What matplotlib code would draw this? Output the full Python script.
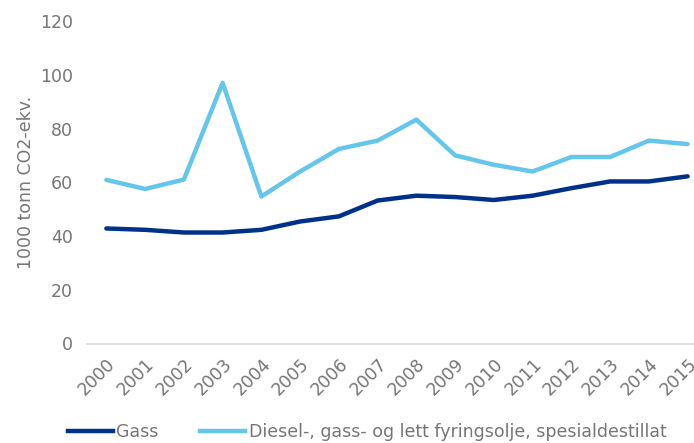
import matplotlib
matplotlib.use("Agg")
import matplotlib.pyplot as plt
from matplotlib.lines import Line2D

years = [str(y) for y in range(2000, 2016)]
gass = [42.8, 42.3, 41.3, 41.3, 42.3, 45.4, 47.3, 53.2, 55.0, 54.5, 53.4, 55.0, 57.8, 60.3, 60.3, 62.2]
diesel = [60.9, 57.5, 61.0, 97.0, 54.7, 64.0, 72.4, 75.5, 83.3, 70.0, 66.5, 64.0, 69.4, 69.4, 75.5, 74.2]

dark = "#003189"
light = "#65c6ec"
grey = "#767676"
fs = 12.5

plt.rcParams['font.family'] = ['DejaVu Sans']

fig = plt.figure(figsize=(6.94, 4.43), dpi=100)
# axes run a bit past the right edge, like the cropped original
ax = fig.add_axes([87/694, 1 - 343.5/443, (707 - 87)/694, (343.5 - 21)/443])

x = range(len(years))
ax.plot(x, gass, color=dark, lw=3.2, solid_capstyle="round", solid_joinstyle="round")
ax.plot(x, diesel, color=light, lw=3.2, solid_capstyle="round", solid_joinstyle="round")

ax.set_xlim(-0.5, len(years) - 0.5)
ax.set_ylim(0, 120)
ax.set_yticks(range(0, 121, 20))
ax.set_xticks(list(x))
ax.set_xticklabels(years, rotation=45, ha="right", rotation_mode="anchor")

for s in ["top", "right", "left"]:
    ax.spines[s].set_visible(False)
ax.spines["bottom"].set_color("#d9d9d9")
ax.spines["bottom"].set_linewidth(1.2)
ax.tick_params(length=0, colors=grey, labelsize=fs)
ax.tick_params(axis="y", pad=10)
ax.tick_params(axis="x", pad=8)
ax.set_ylabel("1000 tonn CO2-ekv.", color=grey, fontsize=fs, labelpad=4)

handles = [Line2D([], [], color=dark, lw=3.2), Line2D([], [], color=light, lw=3.2)]
labels = ["Gass", "Diesel-, gass- og lett fyringsolje, spesialdestillat"]
leg = fig.legend(handles, labels, loc="center left", bbox_to_anchor=(52/694, 1 - 432/443),
                 ncol=2, frameon=False, fontsize=fs, handlelength=2.6, handletextpad=0.2,
                 columnspacing=2.4)
for t in leg.get_texts():
    t.set_color(grey)

fig.savefig("out.png", dpi=100)
